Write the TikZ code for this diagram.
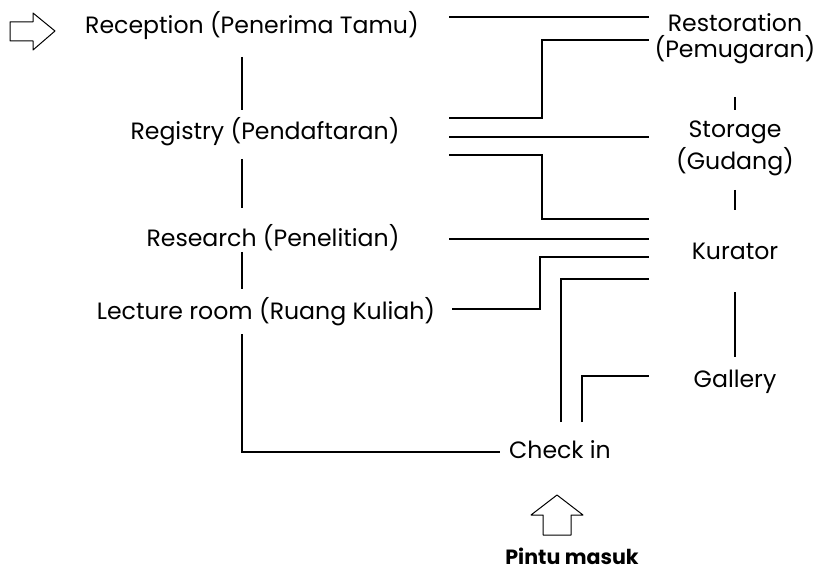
\documentclass[tikz,border=0pt]{standalone}
\usepackage{fontspec}
\setmainfont{Poppins}
\begin{document}
\begin{tikzpicture}[x=0.5pt,y=-0.5pt,
  room/.style={font=\fontsize{11.8}{14}\selectfont,anchor=base,inner sep=0pt},
  link/.style={line width=0.9pt},
  outline/.style={line width=0.5pt,line join=round}]
\useasboundingbox (0,0) rectangle (824,572);
% left column
\node[room] (reception) at (252,34) {Reception (Penerima Tamu)};
\node[room] (registry) at (265,140) {Registry (Pendaftaran)};
\node[room] (research) at (273,247) {Research (Penelitian)};
\node[room] (lecture) at (266,319) {Lecture room (Ruang Kuliah)};
\node[room] (checkin) at (560,458) {Check in};
\node[room,font=\fontsize{10.3}{12}\selectfont\bfseries] (pintu) at (572,564) {Pintu masuk};
% right column
\node[room] (restoration) at (735,32) {Restoration};
\node[room] (pemugaran) at (735,58) {(Pemugaran)};
\node[room] (storage) at (735,138) {Storage};
\node[room] (gudang) at (735,170) {(Gudang)};
\node[room] (kurator) at (735,260) {Kurator};
\node[room] (gallery) at (735,387) {Gallery};
% ports
\coordinate (recB) at (242,57);  \coordinate (regT) at (242,110);
\coordinate (regB) at (242,159); \coordinate (resT) at (242,208);
\coordinate (resB) at (242,252); \coordinate (lecT) at (242,289);
\coordinate (lecB) at (242,334); \coordinate (chkL) at (500,452);
\coordinate (pemB) at (735,97);  \coordinate (stoT) at (735,110);
\coordinate (gudB) at (735,190); \coordinate (kurT) at (735,210);
\coordinate (kurB) at (735,292); \coordinate (galT) at (735,357);
\draw[link] (recB) -- (regT);
\draw[link] (regB) -- (resT);
\draw[link] (resB) -- (lecT);
\draw[link] (lecB) |- (chkL);
\draw[link] (pemB) -- (stoT);
\draw[link] (gudB) -- (kurT);
\draw[link] (kurB) -- (galT);
% connectors to the right column
\coordinate (recR) at (449,17);  \coordinate (resL) at (649,17);
\coordinate (regR1) at (449,118); \coordinate (pemL) at (649,40);
\coordinate (regR2) at (449,137); \coordinate (stoL) at (649,137);
\coordinate (regR3) at (449,155); \coordinate (kurL1) at (649,219);
\coordinate (rseR) at (449,239); \coordinate (kurL2) at (649,239);
\coordinate (lecR) at (452,309); \coordinate (kurL3) at (649,257);
\coordinate (chkT1) at (561,422); \coordinate (kurL4) at (649,279);
\coordinate (chkT2) at (582,422); \coordinate (galL) at (649,376);
\draw[link] (recR) -- (resL);
\draw[link] (regR1) -| (542,40) -- (pemL);
\draw[link] (regR2) -- (stoL);
\draw[link] (regR3) -| (542,219) -- (kurL1);
\draw[link] (rseR) -- (kurL2);
\draw[link] (lecR) -| (540,257) -- (kurL3);
\draw[link] (chkT1) |- (kurL4);
\draw[link] (chkT2) |- (galL);
% entrance arrows
\draw[outline] (10,22) -- (33,22) -- (33,13) -- (55,31) -- (33,50) -- (33,41) -- (10,41) -- cycle;
\draw[outline] (557,495) -- (583,515) -- (571,515) -- (571,535) -- (543,535) -- (543,515) -- (531,515) -- cycle;
\end{tikzpicture}
\end{document}
